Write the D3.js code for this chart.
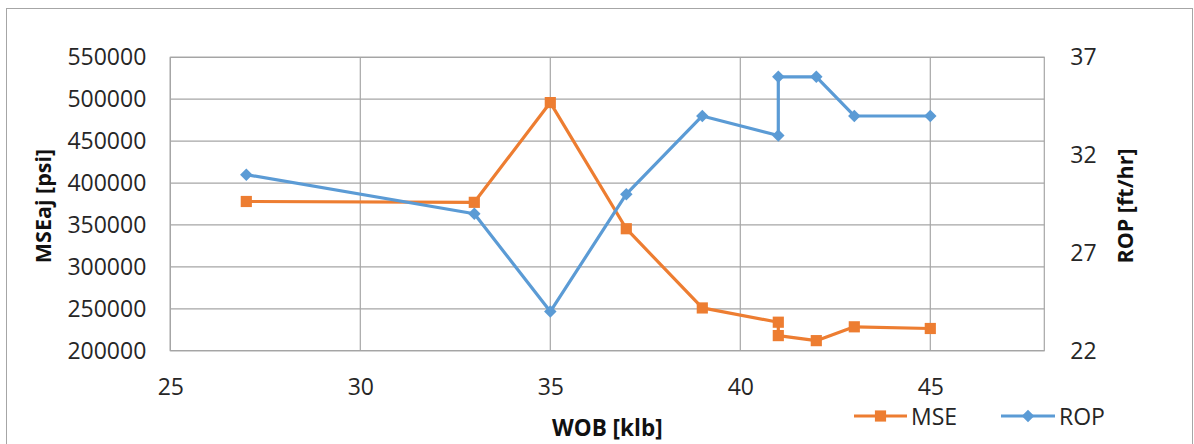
<!DOCTYPE html>
<html><head><meta charset="utf-8">
<script src="https://cdn.jsdelivr.net/npm/d3@7"></script>
<style>
html,body{margin:0;padding:0;background:#fff;}
svg{display:block;font-family:"Open Sans",sans-serif;}
</style></head><body>
<svg id="chart" width="1194" height="444"></svg>
<script>
const wob = [27, 33, 35, 37, 39, 41, 41, 42, 43, 45];
const mse = [378000, 377000, 496000, 345500, 251000, 234000, 218000, 212000, 228500, 226500];
const rop = [31, 29, 24, 30, 34, 33, 36, 36, 34, 34];
const xTicks = [25, 30, 35, 40, 45];
const leftTicks = [200000, 250000, 300000, 350000, 400000, 450000, 500000, 550000];
const rightTicks = [22, 27, 32, 37];
const seriesNames = ["MSE", "ROP"];
const colors = {MSE: "#ED7D31", ROP: "#5B9BD5"};

const svg = d3.select("#chart");
const L = 170.3, R = 1044.3, T = 57.3, B = 350.7;
const x = d3.scaleLinear().domain([25, 48]).range([L, R]);
const yL = d3.scaleLinear().domain([200000, 550000]).range([B, T]);
const yR = d3.scaleLinear().domain([22, 37]).range([B, T]);

// outer border
svg.append("rect").attr("x", 6.5).attr("y", 8.5).attr("width", 1186).attr("height", 440)
  .attr("fill", "#fff").attr("stroke", "#a6a6a6").attr("stroke-width", 1);

const grid = svg.append("g");
grid.selectAll("line.h").data(leftTicks).join("line")
  .attr("x1", L).attr("x2", R).attr("y1", d => yL(d)).attr("y2", d => yL(d))
  .attr("stroke", "#a6a6a6").attr("stroke-width", 1.2);
grid.selectAll("line.v").data(xTicks).join("line")
  .attr("y1", T).attr("y2", B).attr("x1", d => x(d)).attr("x2", d => x(d))
  .attr("stroke", "#a6a6a6").attr("stroke-width", 1.2);
svg.append("rect").attr("x", L).attr("y", T).attr("width", R - L).attr("height", B - T)
  .attr("fill", "none").attr("stroke", "#a6a6a6").attr("stroke-width", 1.2);

// axes via d3 axis, styled without lines
const axL = svg.append("g").attr("transform", `translate(${L},0)`)
  .call(d3.axisLeft(yL).tickValues(leftTicks).tickFormat(d3.format("d")).tickSize(0).tickPadding(24));
const axR = svg.append("g").attr("transform", `translate(${R},0)`)
  .call(d3.axisRight(yR).tickValues(rightTicks).tickFormat(d3.format("d")).tickSize(0).tickPadding(26));
const axB = svg.append("g").attr("transform", `translate(0,${B})`)
  .call(d3.axisBottom(x).tickValues(xTicks).tickFormat(d3.format("d")).tickSize(0).tickPadding(24));
[axL, axR, axB].forEach(a => {
  a.select(".domain").remove();
  a.selectAll("text").attr("font-family", "Open Sans, sans-serif").attr("font-size", 23).attr("fill", "#262626");
});
axB.selectAll("text").attr("dy", "0.35em").attr("y", 36);

// titles
svg.append("text").attr("transform", "translate(42.7,206) rotate(-90)")
  .attr("text-anchor", "middle").attr("dominant-baseline", "central")
  .attr("font-size", 21.5).attr("font-weight", "bold").attr("fill", "#111").text("MSEaj [psi]");
svg.append("text").attr("transform", "translate(1124,206) rotate(-90)")
  .attr("text-anchor", "middle").attr("dominant-baseline", "central")
  .attr("font-size", 21.5).attr("font-weight", "bold").attr("fill", "#111").text("ROP [ft/hr]");
svg.append("text").attr("x", (L + R) / 2).attr("y", 427)
  .attr("text-anchor", "middle").attr("dominant-baseline", "central")
  .attr("font-size", 22.5).attr("font-weight", "bold").attr("fill", "#111").text("WOB [klb]");

const mseData = wob.map((w, i) => [w, mse[i]]);
const ropData = wob.map((w, i) => [w, rop[i]]);

const lineL = d3.line().x(d => x(d[0])).y(d => yL(d[1]));
const lineR = d3.line().x(d => x(d[0])).y(d => yR(d[1]));

svg.append("path").datum(mseData).attr("d", lineL).attr("fill", "none")
  .attr("stroke", colors.MSE).attr("stroke-width", 3.2).attr("stroke-linejoin", "round");
svg.append("path").datum(ropData).attr("d", lineR).attr("fill", "none")
  .attr("stroke", colors.ROP).attr("stroke-width", 3.2).attr("stroke-linejoin", "round");

const sq = d3.symbol().type(d3.symbolSquare).size(125);
const dm = d3.symbol().type(d3.symbolSquare).size(78); // rotated 45° below => regular diamond
svg.append("g").selectAll("path").data(mseData).join("path")
  .attr("transform", d => `translate(${x(d[0])},${yL(d[1])})`).attr("d", sq).attr("fill", colors.MSE);
svg.append("g").selectAll("path").data(ropData).join("path")
  .attr("transform", d => `translate(${x(d[0])},${yR(d[1])}) rotate(45)`).attr("d", dm).attr("fill", colors.ROP);

// legend
const legY = 416;
const legendItems = [
  {name: seriesNames[0], x1: 854, x2: 907, tx: 911, sym: sq, rot: 0},
  {name: seriesNames[1], x1: 1001, x2: 1055, tx: 1059, sym: dm, rot: 45}
];
const lg = svg.append("g");
legendItems.forEach(it => {
  lg.append("line").attr("x1", it.x1).attr("x2", it.x2).attr("y1", legY).attr("y2", legY)
    .attr("stroke", colors[it.name]).attr("stroke-width", 3.2);
  lg.append("path").attr("transform", `translate(${(it.x1 + it.x2) / 2},${legY}) rotate(${it.rot})`)
    .attr("d", it.sym).attr("fill", colors[it.name]);
  lg.append("text").attr("x", it.tx).attr("y", legY).attr("dominant-baseline", "central")
    .attr("font-size", 23).attr("fill", "#262626").text(it.name);
});
</script>
</body></html>
